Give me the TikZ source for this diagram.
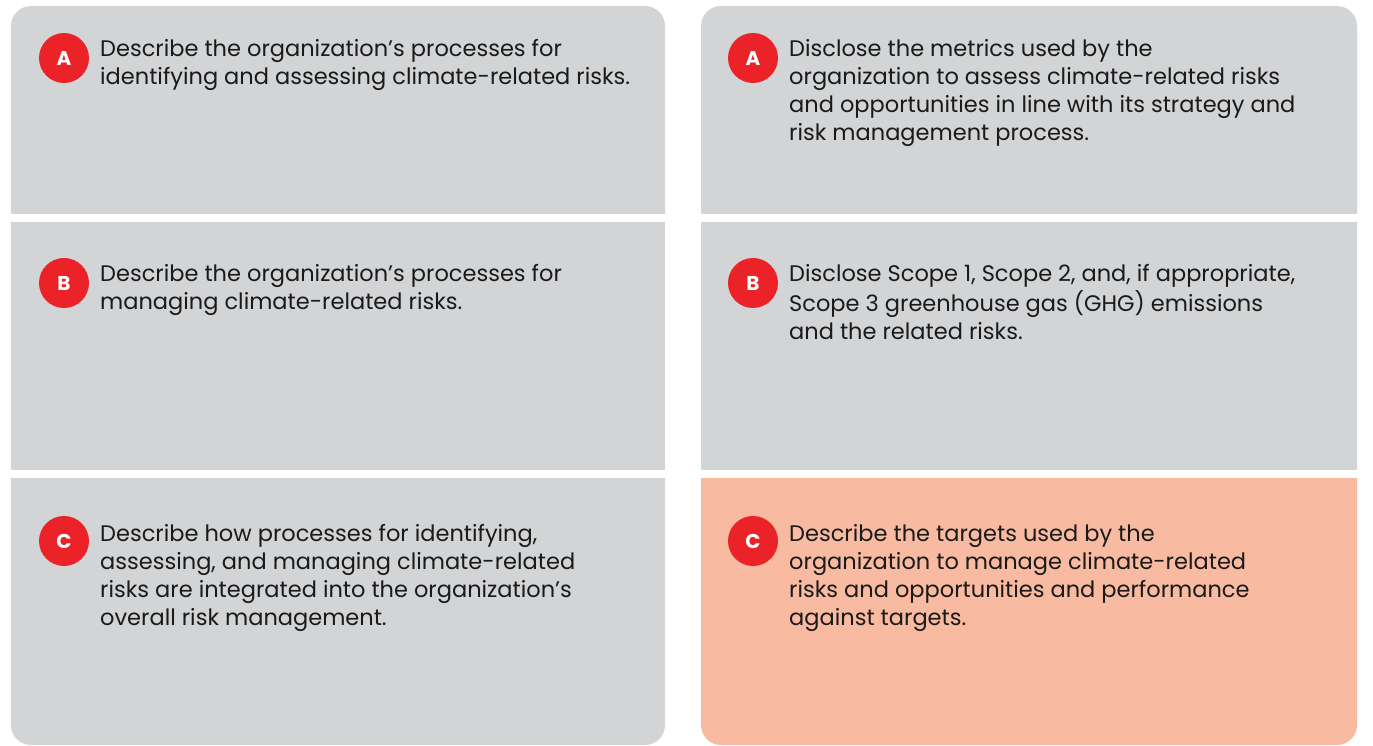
\documentclass[tikz,border=0pt]{standalone}
\usepackage{fontspec}
\setmainfont{Poppins}
\definecolor{panelgray}{HTML}{D3D4D6}
\definecolor{panelsalmon}{HTML}{F8BAA0}
\definecolor{badgered}{HTML}{EC2229}
\definecolor{txt}{HTML}{1A1A1A}
\tikzset{
  badge/.style={circle,fill=badgered,minimum size=50pt,inner sep=0pt,text=white,font=\fontsize{20}{22}\selectfont\bfseries},
  itemtext/.style={anchor=base west,inner sep=0pt,text=txt,font=\fontsize{22.5}{28}\selectfont},
}
\newcommand{\itemlines}[1]{\begin{tabular}[t]{@{}l@{}}#1\end{tabular}}
\begin{document}
\begin{tikzpicture}[x=1pt,y=1pt]
\useasboundingbox (0,0) rectangle (1373,745);
\fill[white] (0,0) rectangle (1373,745);
% left column panels
\fill[panelgray] (11,531) -- (11,719) arc[start angle=180,end angle=90,radius=20] -- (645,739) arc[start angle=90,end angle=0,radius=20] -- (665,531) -- cycle;
\fill[panelgray] (11,275) rectangle (665,523);
\fill[panelgray] (11,267) -- (11,20) arc[start angle=180,end angle=270,radius=20] -- (645,0) arc[start angle=270,end angle=360,radius=20] -- (665,267) -- cycle;
% right column panels
\fill[panelgray] (701,531) -- (701,719) arc[start angle=180,end angle=90,radius=20] -- (1337,739) arc[start angle=90,end angle=0,radius=20] -- (1357,531) -- cycle;
\fill[panelgray] (701,275) rectangle (1357,523);
\fill[panelsalmon] (701,267) -- (701,20) arc[start angle=180,end angle=270,radius=20] -- (1337,0) arc[start angle=270,end angle=360,radius=20] -- (1357,267) -- cycle;
% badges
\node[badge] (la) at (64,687) {A};
\node[badge] (lb) at (64,462) {B};
\node[badge] (lc) at (64,204) {C};
\node[badge] (ra) at (753,687) {A};
\node[badge] (rb) at (753,462) {B};
\node[badge] (rc) at (753,204) {C};
% texts
\node[itemtext] (lat) at (100,688) {\itemlines{Describe the organization’s processes for\\identifying and assessing climate-related risks.}};
\node[itemtext] (lbt) at (100,463) {\itemlines{Describe the organization’s processes for\\managing climate-related risks.}};
\node[itemtext] (lct) at (100,204) {\itemlines{Describe how processes for identifying,\\assessing, and managing climate-related\\risks are integrated into the organization’s\\overall risk management.}};
\node[itemtext] (rat) at (789,688) {\itemlines{Disclose the metrics used by the\\organization to assess climate-related risks\\and opportunities in line with its strategy and\\risk management process.}};
\node[itemtext] (rbt) at (789,463) {\itemlines{Disclose Scope 1, Scope 2, and, if appropriate,\\Scope 3 greenhouse gas (GHG) emissions\\and the related risks.}};
\node[itemtext] (rct) at (789,204) {\itemlines{Describe the targets used by the\\organization to manage climate-related\\risks and opportunities and performance\\against targets.}};
\end{tikzpicture}
\end{document}
